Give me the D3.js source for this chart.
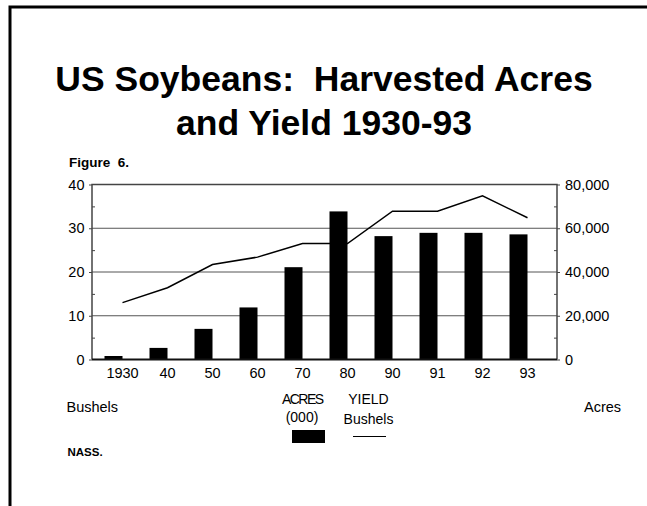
<!DOCTYPE html>
<html>
<head>
<meta charset="utf-8">
<script src="https://cdn.jsdelivr.net/npm/d3@7"></script>
<style>
	html, body { margin: 0; padding: 0; background: #fff; overflow: hidden; }
	svg { display: block; font-family: 'Liberation Sans', Arial, sans-serif; }
	.axis text { fill: #000; }
</style>
</head>
<body>
<div class="chart"></div>
<script>
// values
const years = ['1930', '40', '50', '60', '70', '80', '90', '91', '92', '93']
const acres = [1600, 5300, 14000, 23800, 42200, 67700, 56400, 57900, 57900, 57200] // thousand acres
const yieldBu = [13.0, 16.4, 21.7, 23.4, 26.5, 26.5, 33.9, 33.9, 37.4, 32.4] // bushels per acre
const bushelTicks = [0, 10, 20, 30, 40]
const bushelMinor = [5, 15, 25, 35]
const acreTicks = [0, 20000, 40000, 60000, 80000]
const acreMinor = [10000, 30000, 50000, 70000]

const width = 647
const height = 506
const plot = { left: 92, right: 557, top: 184.5, bottom: 359.5 }

const svg = d3.select('.chart')
	.append('svg')
	.attr('width', width)
	.attr('height', height)

// white page
svg.append('rect')
	.attr('width', width)
	.attr('height', height)
	.attr('fill', '#fff')

const scaleX = d3.scaleBand()
	.domain(years)
	.range([plot.left + 8, plot.left + 458])

const scaleYbu = d3.scaleLinear()
	.domain([0, 40])
	.range([plot.bottom, plot.top])

const scaleYac = d3.scaleLinear()
	.domain([0, 80000])
	.range([plot.bottom, plot.top])

const barW = 18

function drawFrame() {
	// page border, only top and left show
	svg.append('path')
		.attr('d', `M10,${height} V7 H${width}`)
		.attr('fill', 'none')
		.attr('stroke', '#000')
		.attr('stroke-width', 3)

	svg.append('text')
		.attr('x', 324)
		.attr('y', 91)
		.attr('text-anchor', 'middle')
		.style('white-space', 'pre')
		.attr('font-size', 35.5)
		.attr('font-weight', 'bold')
		.text('US Soybeans:  Harvested Acres')

	svg.append('text')
		.attr('x', 324)
		.attr('y', 135)
		.attr('text-anchor', 'middle')
		.attr('font-size', 35.5)
		.attr('font-weight', 'bold')
		.text('and Yield 1930-93')

	svg.append('text')
		.attr('x', 69)
		.attr('y', 167)
		.style('white-space', 'pre')
		.attr('font-size', 13.5)
		.attr('font-weight', 'bold')
		.text('Figure  6.')
}

function drawGrid() {
	svg.append('g')
		.attr('class', 'grid')
		.selectAll('line')
		.data(bushelTicks.slice(1, -1))
		.join('line')
			.attr('x1', plot.left)
			.attr('x2', plot.right)
			.attr('y1', d => scaleYbu(d))
			.attr('y2', d => scaleYbu(d))
			.attr('stroke', '#555')
			.attr('stroke-width', 1)
}

function drawBars() {
	svg.append('g')
		.attr('class', 'bars')
		.selectAll('rect')
		.data(acres)
		.join('rect')
			.attr('x', (d, i) => scaleX(years[i]) + scaleX.bandwidth() / 2 - barW)
			.attr('y', d => scaleYac(d))
			.attr('width', barW)
			.attr('height', d => scaleYac(0) - scaleYac(d))
			.attr('fill', '#000')
}

function drawLine() {
	const line = d3.line()
		.x((d, i) => scaleX(years[i]) + scaleX.bandwidth() / 2)
		.y(d => scaleYbu(d))

	svg.append('path')
		.datum(yieldBu)
		.attr('d', line)
		.attr('fill', 'none')
		.attr('stroke', '#000')
		.attr('stroke-width', 1.5)
}

function drawAxes() {
	// plot box
	svg.append('path')
		.attr('d', `M${plot.left},${plot.bottom} V${plot.top} H${plot.right} V${plot.bottom}`)
		.attr('fill', 'none')
		.attr('stroke', '#444')
		.attr('stroke-width', 1.5)

	svg.append('line')
		.attr('x1', plot.left)
		.attr('x2', plot.right)
		.attr('y1', plot.bottom)
		.attr('y2', plot.bottom)
		.attr('stroke', '#111')
		.attr('stroke-width', 2)

	const left = svg.append('g')
		.attr('class', 'axis axis--left')
		.attr('transform', `translate(${plot.left}, 0)`)
		.call(d3.axisLeft(scaleYbu).tickValues(bushelTicks).tickSize(3).tickPadding(4.5))
	left.select('.domain').remove()

	svg.append('g')
		.attr('class', 'axis axis--leftMinor')
		.attr('transform', `translate(${plot.left}, 0)`)
		.call(d3.axisLeft(scaleYbu).tickValues(bushelMinor).tickSize(-3).tickFormat(''))
		.select('.domain').remove()

	const right = svg.append('g')
		.attr('class', 'axis axis--right')
		.attr('transform', `translate(${plot.right}, 0)`)
		.call(d3.axisRight(scaleYac).tickValues(acreTicks).tickSize(3).tickPadding(5).tickFormat(d3.format(',')))
	right.select('.domain').remove()

	svg.append('g')
		.attr('class', 'axis axis--rightMinor')
		.attr('transform', `translate(${plot.right}, 0)`)
		.call(d3.axisRight(scaleYac).tickValues(acreMinor).tickSize(-3).tickFormat(''))
		.select('.domain').remove()

	const bottom = svg.append('g')
		.attr('class', 'axis axis--bottom')
		.attr('transform', `translate(0, ${plot.bottom})`)
		.call(d3.axisBottom(scaleX).tickSize(0).tickPadding(8.5))
	bottom.select('.domain').remove()

	svg.selectAll('.axis text')
		.attr('font-size', 14.5)
		.attr('font-family', 'Liberation Sans, Arial, sans-serif')
	svg.selectAll('.axis .tick line')
		.attr('stroke', '#444')
}

function drawLegend() {
	const fs = 14.5

	svg.append('text')
		.attr('x', 66.5)
		.attr('y', 412)
		.attr('font-size', fs)
		.text('Bushels')

	svg.append('text')
		.attr('x', 584)
		.attr('y', 412)
		.attr('font-size', fs)
		.text('Acres')

	svg.append('text')
		.attr('x', 303)
		.attr('y', 403.5)
		.attr('text-anchor', 'middle')
		.attr('font-size', 14)
		.attr('textLength', 42)
		.text('ACRES')

	svg.append('text')
		.attr('x', 302)
		.attr('y', 422)
		.attr('text-anchor', 'middle')
		.attr('font-size', 14)
		.text('(000)')

	svg.append('text')
		.attr('x', 368.5)
		.attr('y', 403.5)
		.attr('text-anchor', 'middle')
		.attr('font-size', 14)
		.text('YIELD')

	svg.append('text')
		.attr('x', 368.5)
		.attr('y', 423.5)
		.attr('text-anchor', 'middle')
		.attr('font-size', 14)
		.text('Bushels')

	svg.append('rect')
		.attr('x', 292)
		.attr('y', 430)
		.attr('width', 33)
		.attr('height', 13)
		.attr('fill', '#000')

	svg.append('line')
		.attr('x1', 353)
		.attr('x2', 386)
		.attr('y1', 436.5)
		.attr('y2', 436.5)
		.attr('stroke', '#000')
		.attr('stroke-width', 1)

	svg.append('text')
		.attr('x', 67.5)
		.attr('y', 456)
		.attr('font-size', 11.5)
		.attr('font-weight', 'bold')
		.text('NASS.')
}

drawFrame()
drawGrid()
drawBars()
drawLine()
drawAxes()
drawLegend()
</script>
</body>
</html>
